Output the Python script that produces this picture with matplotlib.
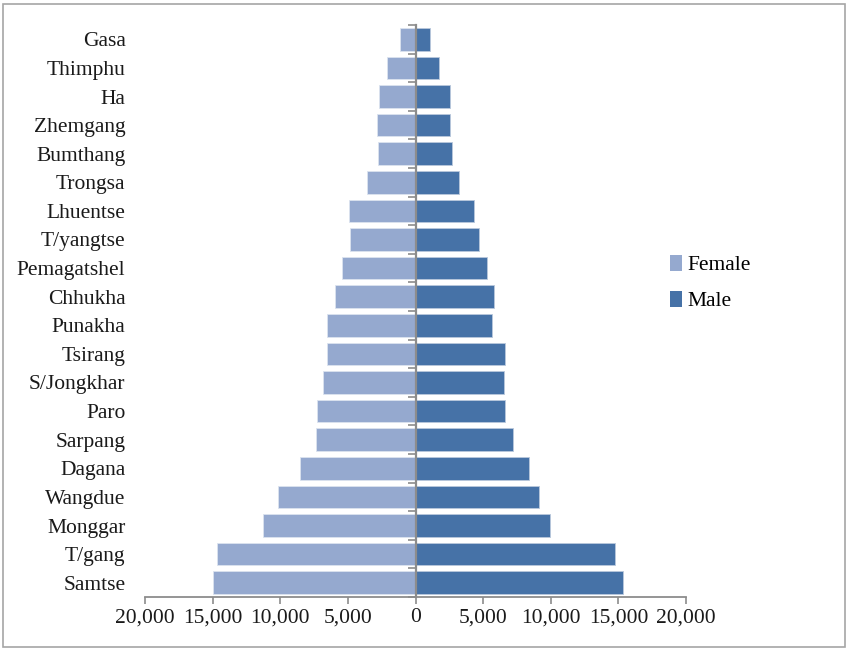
import matplotlib
matplotlib.use("Agg")
import matplotlib.pyplot as plt
from matplotlib.patches import Rectangle, Patch
from matplotlib.ticker import FuncFormatter, FixedLocator
import numpy as np

districts = ["Gasa", "Thimphu", "Ha", "Zhemgang", "Bumthang", "Trongsa", "Lhuentse",
             "T/yangtse", "Pemagatshel", "Chhukha", "Punakha", "Tsirang", "S/Jongkhar",
             "Paro", "Sarpang", "Dagana", "Wangdue", "Monggar", "T/gang", "Samtse"]
female = [1150, 2140, 2720, 2850, 2800, 3560, 4910, 4860, 5420, 5960,
          6530, 6580, 6870, 7310, 7390, 8540, 10190, 11240, 14700, 14950]
male = [1080, 1720, 2540, 2540, 2730, 3180, 4310, 4660, 5250, 5840,
        5690, 6630, 6580, 6650, 7190, 8370, 9160, 9980, 14780, 15370]
xticks = [-20000, -15000, -10000, -5000, 0, 5000, 10000, 15000, 20000]

female_c = "#95A9CF"
male_c = "#4672A7"
grey = "#8C8C8C"
fs = 15.5

plt.rcParams['font.family'] = ['Liberation Serif', 'DejaVu Serif']

fig = plt.figure(figsize=(8.49, 6.49), dpi=100)
ax = fig.add_axes([145/849, 1-597/649, (686-145)/849, (597-25)/649])

n = len(districts)
ypos = np.arange(n)[::-1]  # Gasa at top
ax.barh(ypos, [-v for v in female], height=0.79, color=female_c,
        edgecolor="#DCE3EF", linewidth=0.6, label="Female", zorder=1)
ax.barh(ypos, male, height=0.79, color=male_c,
        edgecolor="#B9C8DC", linewidth=0.6, label="Male", zorder=1)

ax.set_xlim(-20000, 20000)
ax.set_ylim(-0.5, n - 0.5)
ax.set_xticks(xticks)
ax.xaxis.set_major_formatter(FuncFormatter(lambda v, p: f"{abs(int(v)):,}"))
ax.tick_params(axis='x', length=5, width=1.2, color=grey, labelsize=fs, pad=3,
               labelcolor="#1a1a1a")

ax.set_yticks(ypos)
ax.set_yticklabels(districts)
ax.tick_params(axis='y', length=0, labelsize=fs, pad=14, labelcolor="#1a1a1a")

for s in ["top", "right", "left"]:
    ax.spines[s].set_visible(False)
ax.spines["bottom"].set_color(grey)
ax.spines["bottom"].set_linewidth(1.3)

sec = ax.secondary_yaxis('left')
sec.set_location(0.5)
sec.set_zorder(5)
sec.spines["left"].set_color(grey)
sec.spines["left"].set_linewidth(1.6)
sec.yaxis.set_major_locator(FixedLocator(np.arange(-0.5, n, 1.0)))
sec.set_yticklabels([])
sec.tick_params(axis='y', length=6, width=1.2, color=grey, direction='out',
                left=True, right=False)

handles = [Patch(facecolor=female_c, label="Female"),
           Patch(facecolor=male_c, label="Male")]
fig.legend(handles=handles, loc="center left", bbox_to_anchor=(670/849, 1-283/649),
           frameon=False, fontsize=fs, handlelength=0.55, handleheight=0.75,
           handletextpad=0.25, labelspacing=0.72, borderaxespad=0, borderpad=0)

fig.patches.append(Rectangle((2.5/849, 2.5/649), 842/849, 643/649, transform=fig.transFigure,
                             fill=False, edgecolor="#A6A6A6", linewidth=1.2))

fig.savefig("out.png", dpi=100, facecolor="white")
